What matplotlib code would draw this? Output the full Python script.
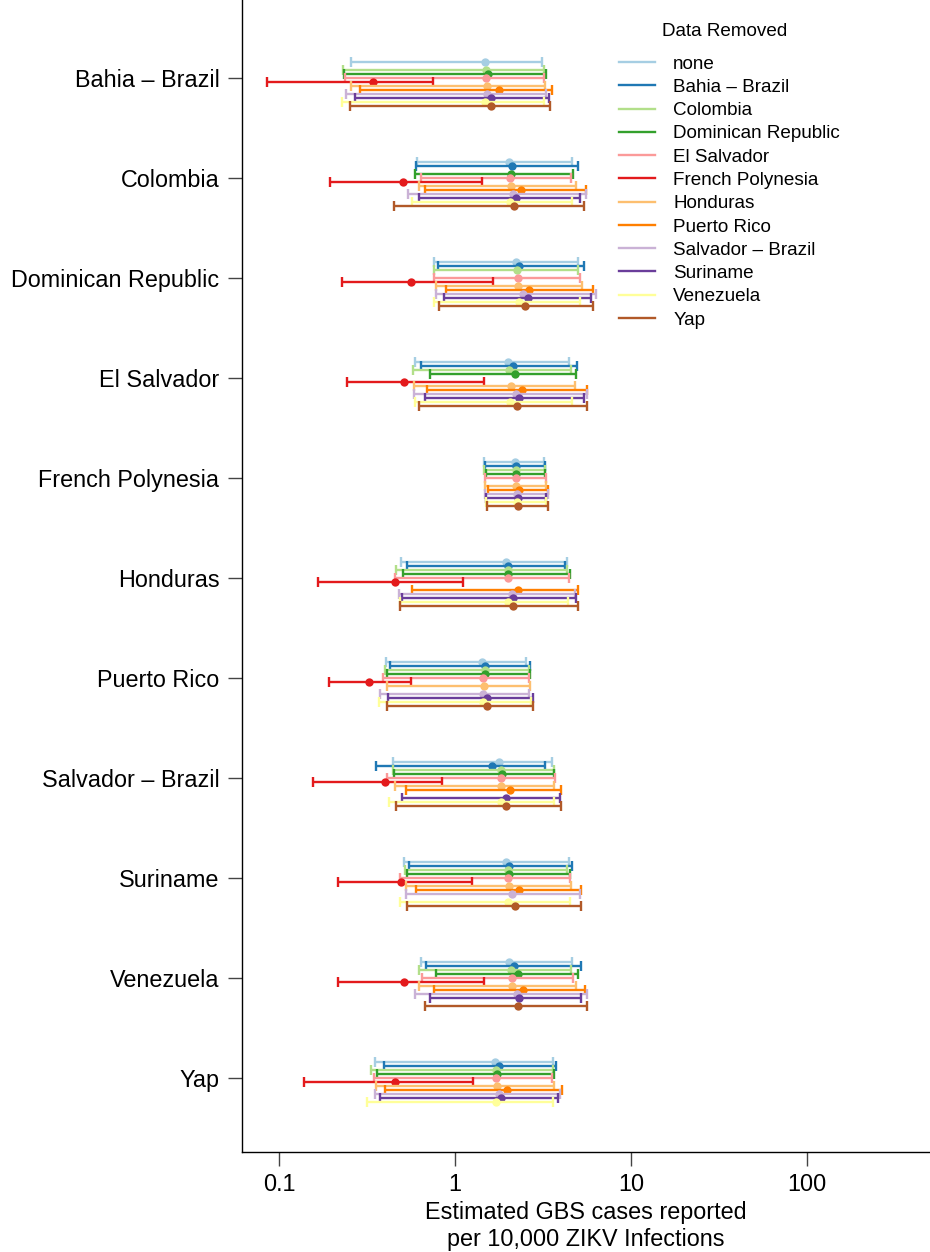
import numpy as np
import matplotlib
matplotlib.use("Agg")
import matplotlib.pyplot as plt
from matplotlib.lines import Line2D
from matplotlib.ticker import FixedLocator, FixedFormatter, NullLocator

plt.rcParams['font.family'] = ['Liberation Sans', 'DejaVu Sans']

# Locations on the y axis, and the data set dropped before each re-fit
locations = ["Bahia – Brazil", "Colombia", "Dominican Republic", "El Salvador",
             "French Polynesia", "Honduras", "Puerto Rico", "Salvador – Brazil",
             "Suriname", "Venezuela", "Yap"]
removed = ["none"] + locations
colors = ["#A6CEE3", "#1F78B4", "#B2DF8A", "#33A02C", "#FB9A99", "#E31A1C",
          "#FDBF6F", "#FF7F00", "#CAB2D6", "#6A3D9A", "#FFFF99", "#B15928"]

nan = np.nan
# rows: locations; columns: data removed (none, then each location)
est = np.array([
    [1.49, nan, 1.51, 1.545, 1.51, 0.340, 1.53, 1.77, 1.52, 1.60, 1.49, 1.60],
    [2.02, 2.12, nan, 2.08, 2.06, 0.504, 2.07, 2.37, 2.14, 2.23, 2.05, 2.17],
    [2.22, 2.32, 2.26, nan, 2.28, 0.559, 2.29, 2.62, 2.44, 2.61, 2.30, 2.50],
    [2.01, 2.13, 2.03, 2.19, nan, 0.513, 2.09, 2.40, 2.22, 2.31, 2.05, 2.25],
    [2.19, 2.21, 2.21, 2.21, 2.22, nan, 2.22, 2.32, 2.24, 2.27, 2.24, 2.29],
    [1.95, 1.99, 1.99, 2.01, 1.99, 0.458, nan, 2.29, 2.10, 2.14, 1.99, 2.14],
    [1.43, 1.49, 1.48, 1.48, 1.45, 0.324, 1.47, nan, 1.45, 1.52, 1.45, 1.52],
    [1.79, 1.63, 1.82, 1.86, 1.82, 0.400, 1.83, 2.06, nan, 1.95, 1.82, 1.95],
    [1.96, 2.04, 1.99, 2.03, 1.99, 0.491, 2.02, 2.32, 2.12, nan, 2.01, 2.18],
    [2.02, 2.17, 2.07, 2.27, 2.10, 0.515, 2.11, 2.42, 2.24, 2.32, nan, 2.29],
    [1.69, 1.77, 1.72, 1.74, 1.71, 0.458, 1.73, 1.97, 1.78, 1.82, 1.71, nan],
])
lo = np.array([
    [0.257, nan, 0.232, 0.234, 0.237, 0.0853, 0.256, 0.289, 0.241, 0.272, 0.229, 0.253],
    [0.610, 0.597, nan, 0.592, 0.640, 0.195, 0.626, 0.675, 0.542, 0.626, 0.572, 0.448],
    [0.756, 0.800, 0.759, nan, 0.762, 0.227, 0.776, 0.888, 0.779, 0.865, 0.756, 0.810],
    [0.592, 0.637, 0.574, 0.720, nan, 0.242, 0.582, 0.689, 0.582, 0.675, 0.589, 0.626],
    [1.46, 1.48, 1.47, 1.505, 1.49, nan, 1.485, 1.54, 1.49, 1.51, 1.505, 1.52],
    [0.491, 0.536, 0.462, 0.506, 0.458, 0.166, nan, 0.572, 0.480, 0.499, 0.484, 0.489],
    [0.403, 0.430, 0.398, 0.409, 0.389, 0.193, 0.409, nan, 0.373, 0.419, 0.368, 0.409],
    [0.446, 0.355, 0.442, 0.452, 0.409, 0.157, 0.456, 0.524, nan, 0.499, 0.423, 0.460],
    [0.513, 0.550, 0.519, 0.536, 0.486, 0.217, 0.524, 0.600, 0.524, nan, 0.486, 0.536],
    [0.637, 0.686, 0.624, 0.776, 0.649, 0.217, 0.621, 0.762, 0.589, 0.723, nan, 0.672],
    [0.349, 0.395, 0.334, 0.360, 0.346, 0.139, 0.354, 0.401, 0.351, 0.374, 0.316, nan],
])
hi = np.array([
    [3.14, nan, 3.20, 3.27, 3.21, 0.749, 3.24, 3.58, 3.31, 3.43, 3.20, 3.46],
    [4.60, 4.97, nan, 4.70, 4.56, 1.42, 4.84, 5.54, 5.54, 5.13, 4.64, 5.40],
    [5.01, 5.40, 4.97, nan, 5.15, 1.65, 5.28, 6.07, 6.29, 5.94, 5.13, 6.07],
    [4.46, 4.95, 4.56, 4.86, nan, 1.46, 4.80, 5.59, 5.64, 5.38, 4.64, 5.59],
    [3.19, 3.23, 3.23, 3.23, 3.30, nan, 3.27, 3.37, 3.36, 3.30, 3.27, 3.36],
    [4.32, 4.21, 4.34, 4.50, 4.44, 1.11, nan, 5.01, 4.80, 4.84, 4.40, 4.97],
    [2.53, 2.68, 2.64, 2.68, 2.62, 0.562, 2.66, nan, 2.64, 2.76, 2.70, 2.78],
    [3.57, 3.26, 3.66, 3.65, 3.68, 0.843, 3.66, 4.01, nan, 3.95, 3.65, 4.01],
    [4.44, 4.62, 4.32, 4.52, 4.50, 1.25, 4.58, 5.19, 5.13, nan, 4.50, 5.17],
    [4.60, 5.17, 4.54, 5.01, 4.66, 1.47, 4.84, 5.47, 5.64, 5.21, nan, 5.59],
    [3.60, 3.74, 3.62, 3.65, 3.58, 1.26, 3.66, 4.07, 3.95, 3.86, 3.62, nan],
])

x_ticks = [0.1, 1, 10, 100]
x_tick_labels = ["0.1", "1", "10", "100"]

FS = 16.8
fig = plt.figure(figsize=(9.3, 12.52), dpi=100)
ax = fig.add_axes([0.2599, 0.0799, 0.7401, 0.9201])

n_loc = len(locations)
group_pos = np.arange(1, n_loc + 1)
step = 0.04

for j, (name, col) in enumerate(zip(removed, colors)):
    for k in range(n_loc):
        if np.isnan(est[k, j]):
            continue
        y = group_pos[k] + (j - 4) * step
        ax.errorbar(est[k, j], y,
                    xerr=[[est[k, j] - lo[k, j]], [hi[k, j] - est[k, j]]],
                    fmt='none', ecolor=col, elinewidth=1.7,
                    capsize=3.4, capthick=1.7, zorder=2 + j)
        ax.plot(est[k, j], y, 'o', color=col, ms=6, mew=0, zorder=2 + j)

ax.set_xscale('log')
ax.set_xlim(0.0614, 500)
ax.set_ylim(11.74, 0.22)

ax.xaxis.set_major_locator(FixedLocator(x_ticks))
ax.xaxis.set_major_formatter(FixedFormatter(x_tick_labels))
ax.xaxis.set_minor_locator(NullLocator())
ax.set_yticks(group_pos)
ax.set_yticklabels(locations)
ax.tick_params(axis='y', labelsize=FS, length=10, width=1, color='#444444', pad=6)
ax.tick_params(axis='x', labelsize=FS, length=10, width=1, color='#444444', pad=5)

for side in ('top', 'right'):
    ax.spines[side].set_visible(False)
for side in ('left', 'bottom'):
    ax.spines[side].set_linewidth(1.0)
    ax.spines[side].set_color('black')

ax.set_xlabel("Estimated GBS cases reported\nper 10,000 ZIKV Infections",
              fontsize=FS, labelpad=4, linespacing=1.2)

handles = [Line2D([], [], color=c, lw=1.7) for c in colors]
leg = ax.legend(handles, removed, loc='upper left',
                bbox_to_anchor=(610 / 930, 1 - 46 / 1252),
                bbox_transform=fig.transFigure, frameon=False,
                fontsize=13.6, borderpad=0, handlelength=1.9,
                handletextpad=0.95, labelspacing=0.32)
fig.text(725 / 930, 1 - 31 / 1252, "Data Removed", fontsize=13.6,
         ha='center', va='center')

fig.savefig("out.png", dpi=100)
